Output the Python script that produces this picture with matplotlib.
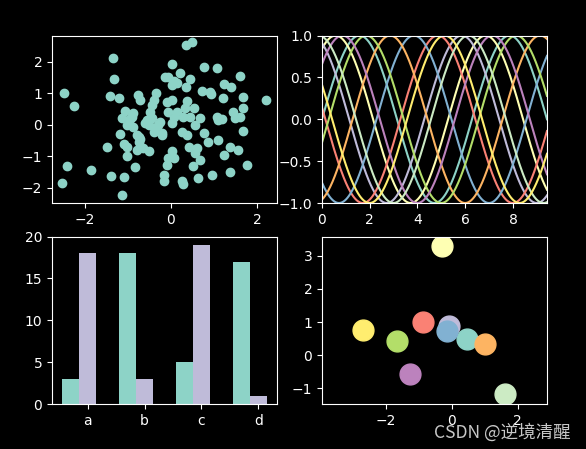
import numpy as np
import matplotlib
matplotlib.use("Agg")
import matplotlib.pyplot as plt

# scatter panel
scatter_x = [-1.355, -1.31, -2.49, -1.41, -1.20, -2.24, -0.77, -0.71, -0.35, -0.40,
             -0.44, -1.06, -0.87, -1.14, -0.94, -0.56, -0.48, -0.09, -0.06, 0.02,
             0.02, -0.06, 0.35, 0.49, 0.76, 1.08, 0.22, 0.45, 0.06, 0.14,
             0.35, 1.61, 1.22, 1.39, 0.72, 0.90, 0.94, 1.20, 1.68, 2.21,
             0.02, 0.37, 0.54, 0.33, 0.14, 1.07, 1.18, 1.45, 1.68, 1.61,
             0.45, 0.68, -1.02, -0.44, -0.25, -0.52, -0.36, 0.02, -1.18, -0.75,
             -0.21, -1.48, -1.10, -1.02, -0.79, -0.64, -0.52, -1.02, 0.02, -0.06,
             -0.09, -0.83, -1.39, -1.10, -0.17, -0.17, -2.40, -1.85, -2.53, -1.14,
             0.29, 0.26, 0.37, 0.76, 0.87, 1.10, 1.68, 1.36, 1.55, 1.22,
             0.41, 0.60, 0.56, 0.68, 0.06, 0.52, 1.36, 0.95, 0.62, 0.26,
             0.27, 1.76, 1.49, 1.10, 0.56, 0.06, -0.90, -0.87, -0.29, -0.21,
             -0.79, -0.71, -0.75, -0.13, -0.40, -0.60]
scatter_y = [2.11, 1.45, 1.01, 0.92, 0.85, 0.59, 0.95, 0.79, 1.00, 0.79,
             0.63, 0.44, 0.37, 0.21, 0.18, 0.16, 0.42, 0.74, 1.53, 1.95,
             1.27, 0.40, 2.53, 2.62, 1.84, 1.81, 1.64, 1.46, 1.39, 1.32,
             1.21, 1.56, 1.29, 1.20, 1.08, 1.05, 0.97, 0.84, 0.90, 0.79,
             0.79, 0.76, 0.55, 0.53, 0.42, 0.26, 0.18, 0.42, 0.53, 0.26,
             0.26, 0.21, 0.00, 0.21, 0.10, 0.00, -0.10, 0.05, -0.29, -0.37,
             -0.32, -0.69, -0.61, -0.69, -0.79, -0.74, -0.84, -1.00, -0.84, -1.05,
             -1.27, -1.35, -1.61, -1.64, -1.58, -1.79, -1.29, -1.42, -1.84, -2.22,
             0.26, -0.21, -0.32, -0.26, -0.53, -0.47, -0.19, -0.69, -0.79, -0.95,
             -0.69, -0.74, -0.90, -1.11, -1.05, -1.32, -1.50, -1.60, -1.67, -1.79,
             -1.87, -1.27, 0.23, 0.16, 0.00, 0.26, 0.26, -0.05, 0.00, -0.26,
             -0.32, -0.44, -0.53, 1.53, -0.21, 0.05]

# sinusoid panel: one phase shift per colour of the cycle
phase_shifts = [0, 1, 2, 3, 4, 5, 6, 7, 8, 9]

# bar panel
bar_labels = ['a', 'b', 'c', 'd']
bars_first = [3, 18, 5, 17]
bars_second = [18, 3, 19, 1]

# coloured circles panel
circle_x = [0.45, -0.29, -0.09, -0.87, -0.14, 1.02, -1.66, -1.28, 1.60, -2.71]
circle_y = [0.49, 3.29, 0.89, 0.99, 0.73, 0.35, 0.43, -0.56, -1.17, 0.76]

plt.style.use('dark_background')

fig, axs = plt.subplots(2, 2, figsize=(5.86, 4.49), dpi=100)
fig.subplots_adjust(left=0.0887, right=0.9334, top=0.9209, bottom=0.1002,
                    wspace=0.2, hspace=0.2)

ax = axs[0, 0]
ax.scatter(scatter_x, scatter_y)
ax.set_xlim(-2.76, 2.46)
ax.set_ylim(-2.48, 2.84)

ax = axs[0, 1]
x = np.linspace(0, 3 * np.pi, 300)
for s in phase_shifts:
    ax.plot(x, np.sin(x + s), '-')
ax.set_xlim(0, 3 * np.pi)
ax.set_ylim(-1, 1)

ax = axs[1, 0]
idx = np.arange(len(bar_labels))
width = 0.3
ax.bar(idx, bars_first, width)
ax.bar(idx + width, bars_second, width, color='C2')
ax.set_xticks(idx + width)
ax.set_xticklabels(bar_labels)
ax.set_ylim(0, 20)

ax = axs[1, 1]
for i in range(len(circle_x)):
    ax.plot(circle_x[i], circle_y[i], 'o', ms=15, color='C%d' % i)
ax.set_xlim(-3.95, 2.89)
ax.set_ylim(-1.47, 3.58)

# watermark in the lower right corner, over the last tick labels as in the source
fig.text(0.973, 0.016, 'CSDN @逆境清醒', ha='right', va='bottom', fontsize=12.6,
         color='#c8c8c8', family=['Noto Sans CJK SC', 'DejaVu Sans'])

fig.savefig('out.png')
